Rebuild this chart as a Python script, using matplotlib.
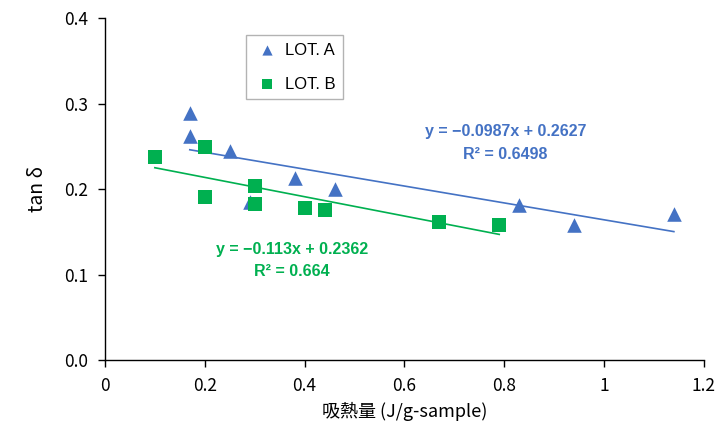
import matplotlib
matplotlib.use("Agg")
import matplotlib.pyplot as plt
import numpy as np

plt.rcParams['font.family'] = ['Noto Sans CJK JP', 'DejaVu Sans']

# Measured data
lot_a_x = [0.17, 0.17, 0.25, 0.29, 0.38, 0.46, 0.83, 0.94, 1.14]
lot_a_y = [0.289, 0.262, 0.244, 0.185, 0.213, 0.200, 0.181, 0.158, 0.171]
lot_b_x = [0.10, 0.20, 0.20, 0.30, 0.30, 0.40, 0.44, 0.67, 0.79]
lot_b_y = [0.237, 0.249, 0.191, 0.203, 0.183, 0.178, 0.175, 0.161, 0.158]

# Linear fits (slope, intercept, R²)
fit_a = (-0.0987, 0.2627, 0.6498)
fit_b = (-0.113, 0.2362, 0.664)

x_ticks = [0, 0.2, 0.4, 0.6, 0.8, 1, 1.2]
x_tick_labels = ["0", "0.2", "0.4", "0.6", "0.8", "1", "1.2"]
y_ticks = [0.0, 0.1, 0.2, 0.3, 0.4]
y_tick_labels = ["0.0", "0.1", "0.2", "0.3", "0.4"]

blue = "#4472C4"
green = "#00B050"

fig = plt.figure(figsize=(7.16, 4.29), dpi=100)
ax = fig.add_axes([0.1466, 0.1608, 0.8364, 0.7972])

ax.scatter(lot_a_x, lot_a_y, marker="^", s=110, color=blue, label="LOT. A", zorder=3, linewidths=0)
ax.scatter(lot_b_x, lot_b_y, marker="s", s=110, color=green, label="LOT. B", zorder=3, linewidths=0)

xa = np.array([min(lot_a_x), max(lot_a_x)])
ax.plot(xa, fit_a[0] * xa + fit_a[1], color=blue, lw=1.2, zorder=2)
xb = np.array([min(lot_b_x), max(lot_b_x)])
ax.plot(xb, fit_b[0] * xb + fit_b[1], color=green, lw=1.2, zorder=2)

eq_font = dict(fontsize=11.5, fontweight="bold", ha="center", va="center",
               family=["Liberation Sans", "DejaVu Sans"])
ax.text(0.804, 0.267, f"y = −{abs(fit_a[0])}x + {fit_a[1]}", color=blue, **eq_font)
ax.text(0.802, 0.240, f"R² = {fit_a[2]}", color=blue, **eq_font)
ax.text(0.375, 0.129, f"y = −{abs(fit_b[0])}x + {fit_b[1]}", color=green, **eq_font)
ax.text(0.375, 0.104, f"R² = {fit_b[2]}", color=green, **eq_font)

ax.set_xlim(0, 1.2)
ax.set_ylim(0, 0.4)
ax.set_xticks(x_ticks)
ax.set_xticklabels(x_tick_labels)
ax.set_yticks(y_ticks)
ax.set_yticklabels(y_tick_labels)
ax.tick_params(direction="out", length=5, width=1, labelsize=12.5, colors="#000000", pad=7)
ax.spines["top"].set_visible(False)
ax.spines["right"].set_visible(False)
for s in ("left", "bottom"):
    ax.spines[s].set_linewidth(1)
    ax.spines[s].set_color("#000000")

ax.set_xlabel("吸熱量 (J/g-sample)", fontsize=13, labelpad=5)
ax.set_ylabel("tan δ", fontsize=14, labelpad=12)

leg = ax.legend(loc="upper left", bbox_to_anchor=(0.235, 0.95), borderaxespad=0,
                frameon=True, fancybox=False, edgecolor="#A0A0A0",
                prop={"family": ["Liberation Sans"], "size": 12},
                handletextpad=0.3, borderpad=0.45, labelspacing=1.15,
                markerscale=0.7, handlelength=1.6)
leg.get_frame().set_linewidth(1)

fig.savefig("out.png", dpi=100)
